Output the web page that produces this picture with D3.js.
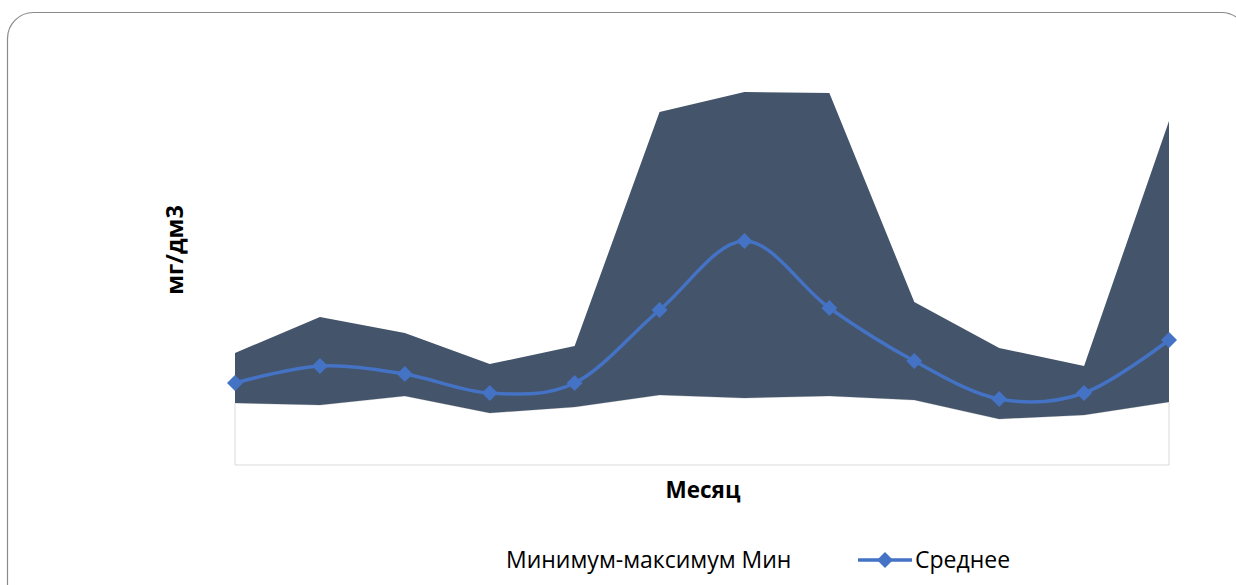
<!DOCTYPE html>
<html>
<head>
<meta charset="utf-8">
<script src="https://cdn.jsdelivr.net/npm/d3@7"></script>
<style>
  html, body { margin: 0; padding: 0; background: #fff; }
  svg { display: block; }
  text { font-family: "Open Sans", "Noto Sans", sans-serif; fill: #000; }
</style>
</head>
<body>
<svg id="chart" width="1236" height="585"></svg>
<script>
// Monthly concentration, mg/dm3
const months = ["Янв", "Фев", "Мар", "Апр", "Май", "Июн", "Июл", "Авг", "Сен", "Окт", "Ноя", "Дек"];
const minValues = [0.062, 0.060, 0.069, 0.052, 0.058, 0.070, 0.067, 0.069, 0.065, 0.046, 0.050, 0.063];
const maxValues = [0.112, 0.148, 0.132, 0.101, 0.119, 0.353, 0.373, 0.372, 0.163, 0.117, 0.099, 0.344];
const avgValues = [0.082, 0.099, 0.091, 0.072, 0.082, 0.155, 0.224, 0.157, 0.104, 0.066, 0.072, 0.125];
const yDomain = [0, 0.4];

const legendRange = "Минимум-максимум Мин";
const legendAvg = "Среднее";
const xTitle = "Месяц";
const yTitle = "мг/дм3";

const svg = d3.select("#chart");

// outer frame with rounded corners
svg.append("rect")
  .attr("x", 7.5).attr("y", 12.5)
  .attr("width", 1240).attr("height", 600)
  .attr("rx", 26).attr("ry", 26)
  .attr("fill", "#fff")
  .attr("stroke", "#8a8a8a")
  .attr("stroke-width", 1.2);

const plot = { left: 235, right: 1169, top: 65, bottom: 465 };

const x = d3.scalePoint().domain(months).range([plot.left, plot.right]);
const y = d3.scaleLinear().domain(yDomain).range([plot.bottom, plot.top]);

const rows = months.map((m, i) => ({ m, lo: minValues[i], hi: maxValues[i], avg: avgValues[i] }));

// lower stacked series: white fill, light outline
const minArea = d3.area()
  .x(d => x(d.m))
  .y0(y(0))
  .y1(d => y(d.lo));
svg.append("path")
  .datum(rows)
  .attr("d", minArea)
  .attr("fill", "#fff")
  .attr("stroke", "#d9d9d9")
  .attr("stroke-width", 1);

// min-max band
const bandArea = d3.area()
  .x(d => x(d.m))
  .y0(d => y(d.lo))
  .y1(d => y(d.hi));
svg.append("path")
  .datum(rows)
  .attr("d", bandArea)
  .attr("fill", "#44546a");

// smoothed average line
const avgLine = d3.line()
  .x(d => x(d.m))
  .y(d => y(d.avg))
  .curve(d3.curveCardinal.tension(0));
svg.append("path")
  .datum(rows)
  .attr("d", avgLine)
  .attr("fill", "none")
  .attr("stroke", "#4472c4")
  .attr("stroke-width", 3.5);

const diamond = d3.symbol().type(d3.symbolSquare).size(128);
svg.append("g")
  .selectAll("path")
  .data(rows)
  .join("path")
  .attr("d", diamond)
  .attr("transform", d => `translate(${x(d.m)},${y(d.avg)}) rotate(45)`)
  .attr("fill", "#4472c4");

// axis titles
svg.append("text")
  .attr("x", 703).attr("y", 498)
  .attr("text-anchor", "middle")
  .attr("font-size", 22.5)
  .attr("font-weight", "bold")
  .text(xTitle);

svg.append("text")
  .attr("transform", "translate(183,250) rotate(-90)")
  .attr("text-anchor", "middle")
  .attr("font-size", 23.5)
  .attr("font-weight", "bold")
  .text(yTitle);

// legend
svg.append("text")
  .attr("x", 506).attr("y", 568)
  .attr("font-size", 23)
  .text(legendRange);

svg.append("line")
  .attr("x1", 858).attr("x2", 912)
  .attr("y1", 560).attr("y2", 560)
  .attr("stroke", "#4472c4")
  .attr("stroke-width", 3.5);
svg.append("path")
  .attr("d", diamond)
  .attr("transform", "translate(885,560) rotate(45)")
  .attr("fill", "#4472c4");
svg.append("text")
  .attr("x", 915).attr("y", 568)
  .attr("font-size", 23)
  .text(legendAvg);
</script>
</body>
</html>
